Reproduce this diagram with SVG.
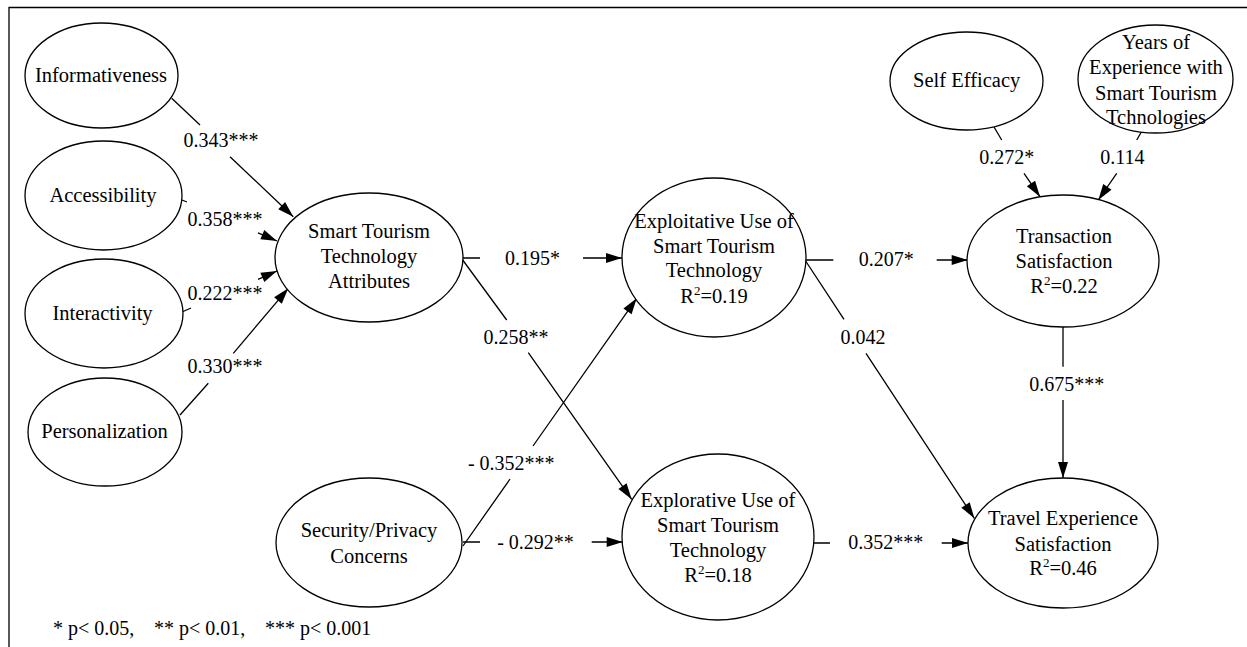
<svg xmlns="http://www.w3.org/2000/svg" width="1247" height="647" viewBox="0 0 1247 647" font-family="'Liberation Serif', 'Times New Roman', serif">
<style>
text{font-family:"Liberation Serif","Times New Roman",serif;fill:#000}
.n{font-size:20.5px;text-anchor:middle}
.l{font-size:20px;text-anchor:middle}
.fn{font-size:20px}
ellipse{fill:#fff;stroke:#000;stroke-width:1.3}
.c path{fill:none;stroke:#000;stroke-width:1.3;marker-end:url(#ah)}
</style>
<defs>
<marker id="ah" markerUnits="userSpaceOnUse" markerWidth="16" markerHeight="10" refX="16" refY="5" orient="auto" overflow="visible">
<path d="M0,0 L16,5 L0,10 z" fill="#000"/>
</marker>
</defs>
<rect width="1247" height="647" fill="#fff"/>
<path d="M9,648 L9,7.5 L1248,7.5" fill="none" stroke="#000" stroke-width="1.3"/>

<g id="connectors" class="c">
<path d="M171.7,98.3 L200,125 M230,156.7 L293.3,216.7"/>
<path d="M182,200 L187,202 M258,232.8 L277,241"/>
<path d="M182,312 L191,308 M258,279.3 L277,271"/>
<path d="M180,415 L208.3,383.3 M233.3,353.3 L288.3,288.3"/>
<path d="M463,258 L480,258 M583,258 L622,258"/>
<path d="M462.7,260 L506.7,320 M528.3,352.7 L631.7,499.3"/>
<path d="M463,546 L510,479 M533,446 L636.7,298.3"/>
<path d="M463,542 L480,542 M591.7,542 L622.7,542"/>
<path d="M805,260 L833.3,260 M936.7,260 L967.7,260"/>
<path d="M805,260 L844,319.3 M866,353.3 L974.3,518.3"/>
<path d="M1063,327 L1063,366.7 M1063,400 L1063,478"/>
<path d="M814,543 L830,543 M941.7,543 L968,543"/>
<path d="M994,127 L1001.7,140 M1024,173.3 L1040,196.7"/>
<path d="M1142,131 L1136.7,140 M1116.7,173.3 L1098.3,200"/>
</g>

<g id="edge-labels">
<text class="l" x="221" y="147">0.343***</text>
<text class="l" x="225" y="226">0.358***</text>
<text class="l" x="225" y="300">0.222***</text>
<text class="l" x="225" y="373">0.330***</text>
<text class="l" x="532.5" y="265">0.195*</text>
<text class="l" x="516" y="344">0.258**</text>
<text class="l" x="511.3" y="470">- 0.352***</text>
<text class="l" x="535.5" y="549">- 0.292**</text>
<text class="l" x="886.3" y="266">0.207*</text>
<text class="l" x="863" y="344">0.042</text>
<text class="l" x="1066.7" y="391">0.675***</text>
<text class="l" x="1006.7" y="164">0.272*</text>
<text class="l" x="1122.5" y="164">0.114</text>
<text class="l" x="885.8" y="549">0.352***</text>
</g>

<g id="informativeness">
<ellipse cx="101.5" cy="75.5" rx="76.5" ry="52.5"/>
<text class="n" x="101" y="82">Informativeness</text>
</g>
<g id="accessibility">
<ellipse cx="103.5" cy="195.5" rx="78.5" ry="54.5"/>
<text class="n" x="103" y="202">Accessibility</text>
</g>
<g id="interactivity">
<ellipse cx="104" cy="313.5" rx="79" ry="54.5"/>
<text class="n" x="102.5" y="320">Interactivity</text>
</g>
<g id="personalization">
<ellipse cx="105" cy="432" rx="77" ry="54"/>
<text class="n" x="104.5" y="438.3">Personalization</text>
</g>
<g id="sta">
<ellipse cx="369" cy="257.5" rx="94" ry="64.5"/>
<text class="n" x="369" y="238.3">Smart Tourism</text>
<text class="n" x="369" y="263.3">Technology</text>
<text class="n" x="369" y="288.3">Attributes</text>
</g>
<g id="security">
<ellipse cx="369" cy="542.5" rx="93" ry="64.5"/>
<text class="n" x="369" y="537.3">Security/Privacy</text>
<text class="n" x="369" y="562.7">Concerns</text>
</g>
<g id="exploitative">
<ellipse cx="714" cy="257.5" rx="92" ry="79.5"/>
<text class="n" x="714" y="228.3">Exploitative Use of</text>
<text class="n" x="714" y="252.7">Smart Tourism</text>
<text class="n" x="714" y="277.3">Technology</text>
<text class="n" x="714" y="302.7">R<tspan font-size="13" dy="-8">2</tspan><tspan dy="8">=0.19</tspan></text>
</g>
<g id="explorative">
<ellipse cx="718" cy="537" rx="96" ry="83"/>
<text class="n" x="718" y="507">Explorative Use of</text>
<text class="n" x="718" y="532">Smart Tourism</text>
<text class="n" x="718" y="557">Technology</text>
<text class="n" x="718" y="582">R<tspan font-size="13" dy="-8">2</tspan><tspan dy="8">=0.18</tspan></text>
</g>
<g id="self-efficacy">
<ellipse cx="966.5" cy="81" rx="76.5" ry="49"/>
<text class="n" x="966.7" y="86.7">Self Efficacy</text>
</g>
<g id="years">
<ellipse cx="1155.5" cy="79" rx="77.5" ry="54"/>
<text class="n" x="1156" y="49">Years of</text>
<text class="n" x="1156" y="74">Experience with</text>
<text class="n" x="1156" y="100">Smart Tourism</text>
<text class="n" x="1156" y="124">Tchnologies</text>
</g>
<g id="transaction">
<ellipse cx="1063" cy="261" rx="96" ry="66"/>
<text class="n" x="1064" y="242.7">Transaction</text>
<text class="n" x="1064" y="268.3">Satisfaction</text>
<text class="n" x="1064" y="292.7">R<tspan font-size="13" dy="-8">2</tspan><tspan dy="8">=0.22</tspan></text>
</g>
<g id="travel">
<ellipse cx="1063" cy="543" rx="95" ry="65"/>
<text class="n" x="1063" y="525">Travel Experience</text>
<text class="n" x="1063" y="550.7">Satisfaction</text>
<text class="n" x="1063" y="575">R<tspan font-size="13" dy="-8">2</tspan><tspan dy="8">=0.46</tspan></text>
</g>

<g id="footnote">
<text class="fn" x="53" y="635">* p&lt; 0.05,</text>
<text class="fn" x="154" y="635">** p&lt; 0.01,</text>
<text class="fn" x="265" y="635">*** p&lt; 0.001</text>
</g>
</svg>
